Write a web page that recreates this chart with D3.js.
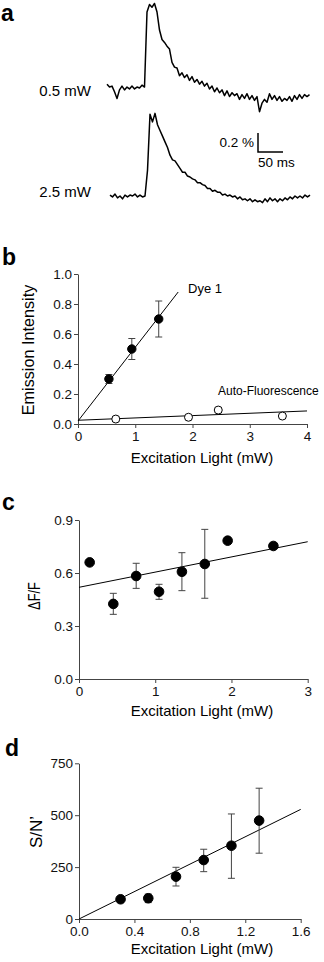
<!DOCTYPE html>
<html>
<head>
<meta charset="utf-8">
<script src="https://cdn.jsdelivr.net/npm/d3@7"></script>
<style>
  body { margin: 0; background: #fff; }
  svg { display: block; font-family: Arial, "Liberation Sans", Helvetica, sans-serif; }
</style>
</head>
<body>
<svg id="fig" width="324" height="962"></svg>
<script>
// ---- data ----
// panel a : traces (% dF/F), one sample every 5 ms
const sampleMs = 5;
const trace05 = [0.04,0.01,0.02,-0.04,-0.11,-0.02,0.02,-0.02,0.01,-0.01,0.02,-0.01,0.01,0,0.03,0.01,
  0.80,0.88,0.85,0.89,0.80,0.61,0.51,0.48,0.44,0.41,0.27,0.22,0.21,0.13,0.16,0.11,0.14,0.08,0.12,0.06,
  0.09,0.04,0.07,0.02,0.05,-0.01,0.02,-0.04,0,-0.05,-0.02,-0.08,-0.03,-0.09,-0.05,-0.08,-0.06,-0.12,
  -0.07,-0.11,-0.06,-0.12,-0.08,-0.13,-0.09,-0.25,-0.16,-0.12,-0.15,-0.06,-0.12,-0.08,-0.13,-0.09,
  -0.14,-0.11,-0.13,-0.09,-0.14,-0.08,-0.12,-0.07,-0.11,-0.07,-0.09,-0.07];
const trace25 = [0.01,-0.01,0.02,-0.02,0,-0.03,0.01,-0.01,0.01,0,0.02,-0.01,0.01,-0.01,0,0.27,
  0.86,0.78,0.87,0.75,0.69,0.63,0.57,0.51,0.43,0.38,0.37,0.33,0.29,0.25,0.25,0.21,0.20,0.18,0.17,
  0.14,0.14,0.12,0.11,0.08,0.08,0.05,0.06,0.04,0.04,0.01,0.02,0,0.01,-0.01,0,-0.03,-0.01,-0.04,
  -0.03,-0.05,-0.03,-0.06,-0.04,-0.06,-0.05,-0.07,-0.03,-0.06,-0.02,-0.05,-0.03,-0.06,-0.03,-0.05,
  -0.02,-0.04,-0.01,-0.03,0,-0.02,0,-0.02,0.01,-0.01,0.01];
const trace25StartMs = 6;
const traceLabels = ["0.5 mW", "2.5 mW"];

// panel b
const dyeX = [0.54, 0.94, 1.41];
const dyeY = [0.30, 0.50, 0.70];
const dyeErr = [0.03, 0.07, 0.12];
const dyeFit = [[0, 0.02], [1.75, 0.88]];
const autoX = [0.66, 1.93, 2.45, 3.57];
const autoY = [0.033, 0.045, 0.093, 0.053];
const autoFit = [[0, 0.025], [4, 0.087]];
const bXTicks = [0, 1, 2, 3, 4];
const bYTicks = [0, 0.2, 0.4, 0.6, 0.8, 1.0];

// panel c
const cX = [0.14, 0.45, 0.75, 1.05, 1.35, 1.65, 1.95, 2.55];
const cY = [0.66, 0.425, 0.583, 0.494, 0.607, 0.651, 0.783, 0.753];
const cErrLo = [null, 0.366, 0.513, 0.451, 0.50, 0.457, null, null];
const cErrHi = [null, 0.485, 0.655, 0.536, 0.715, 0.847, null, null];
const cFit = [[0, 0.519], [3, 0.777]];
const cXTicks = [0, 1, 2, 3];
const cYTicks = [0, 0.3, 0.6, 0.9];

// panel d
const dX = [0.3, 0.5, 0.7, 0.9, 1.1, 1.3];
const dY = [95, 100, 204, 284, 353, 474];
const dErrLo = [null, 79, 159, 228, 196, 317];
const dErrHi = [null, 120, 249, 336, 506, 630];
const dFit = [[0, 0], [1.6, 528]];
const dXTicks = [0, 0.4, 0.8, 1.2, 1.6];
const dYTicks = [0, 250, 500, 750];

const svg = d3.select("#fig");

// panel letters
const letters = [["a", 1, 21], ["b", 2, 265], ["c", 2, 510], ["d", 5, 756]];
svg.selectAll(".letter").data(letters).enter().append("text")
  .attr("class", "letter")
  .attr("x", d => d[1])
  .attr("y", d => d[2])
  .attr("font-size", 23).attr("font-weight", "bold")
  .text(d => d[0]);

// ---- panel a ----
const xT = d3.scaleLinear().domain([0, 405]).range([107, 309.5]);
const yT1 = d3.scaleLinear().domain([0, 1]).range([88, -7]);
const yT2 = d3.scaleLinear().domain([0, 1]).range([196, 101]);

const line1 = d3.line().x((d, i) => xT(i * sampleMs)).y(d => yT1(d));
const line2 = d3.line().x((d, i) => xT(trace25StartMs + i * sampleMs)).y(d => yT2(d));

svg.append("path").datum(trace05).attr("d", line1)
  .attr("fill", "none").attr("stroke", "#000").attr("stroke-width", 1.5).attr("stroke-linejoin", "round");
svg.append("path").datum(trace25).attr("d", line2)
  .attr("fill", "none").attr("stroke", "#000").attr("stroke-width", 1.5).attr("stroke-linejoin", "round");

svg.append("text").attr("x", 91).attr("y", 96).attr("text-anchor", "end")
  .attr("font-size", 15).text(traceLabels[0]);
svg.append("text").attr("x", 91).attr("y", 197).attr("text-anchor", "end")
  .attr("font-size", 15).text(traceLabels[1]);

// scale bar 0.2 % / 50 ms
const barT = 302, barBottom = 152;
const barH = yT2(0) - yT2(0.2);
const barW = xT(barT + 50) - xT(barT);
svg.append("path")
  .attr("d", `M${xT(barT)},${barBottom - barH}V${barBottom}H${xT(barT) + barW}`)
  .attr("fill", "none").attr("stroke", "#000").attr("stroke-width", 1.5);
svg.append("text").attr("x", xT(barT) - 4).attr("y", 147).attr("text-anchor", "end")
  .attr("font-size", 13.5).text("0.2 %");
svg.append("text").attr("x", xT(barT)).attr("y", 167)
  .attr("font-size", 13.5).text("50 ms");

// ---- helpers ----
function drawAxes(x, y, xTicks, yTicks, xFmt, yFmt) {
  const gx = svg.append("g").attr("transform", `translate(0,${y.range()[0]})`)
    .call(d3.axisBottom(x).tickValues(xTicks).tickFormat(xFmt).tickSize(4).tickSizeOuter(0).tickPadding(3));
  const gy = svg.append("g").attr("transform", `translate(${x.range()[0]},0)`)
    .call(d3.axisLeft(y).tickValues(yTicks).tickFormat(yFmt).tickSize(4).tickSizeOuter(0).tickPadding(2));
  [gx, gy].forEach(g => {
    g.selectAll("path,line").attr("stroke", "#444");
    g.selectAll("text").attr("font-size", 13.5).attr("fill", "#111")
      .attr("font-family", "Arial, 'Liberation Sans', Helvetica, sans-serif");
  });
}

function errorBars(x, y, xs, lo, hi) {
  const idx = xs.map((d, i) => i).filter(i => lo[i] !== null);
  const g = svg.append("g").attr("stroke", "#444").attr("stroke-width", 1).attr("fill", "none");
  idx.forEach(i => {
    const cx = x(xs[i]);
    g.append("path").attr("d",
      `M${cx},${y(lo[i])}V${y(hi[i])}M${cx - 3.5},${y(lo[i])}H${cx + 3.5}M${cx - 3.5},${y(hi[i])}H${cx + 3.5}`);
  });
}

function fitLine(x, y, pts) {
  svg.append("path").datum(pts)
    .attr("d", d3.line().x(d => x(d[0])).y(d => y(d[1])))
    .attr("fill", "none").attr("stroke", "#000").attr("stroke-width", 1);
}

function dots(x, y, xs, ys, filled, r) {
  svg.append("g").selectAll("circle").data(xs).enter().append("circle")
    .attr("cx", d => x(d)).attr("cy", (d, i) => y(ys[i])).attr("r", r)
    .attr("fill", filled ? "#000" : "#fff").attr("stroke", "#000").attr("stroke-width", 1);
}

function axisTitles(xTitle, yTitle, xBase, yBase, yCy, ySize, yLen) {
  svg.append("text").attr("x", 202).attr("y", xBase).attr("text-anchor", "middle")
    .attr("font-size", 15).text(xTitle);
  const t = svg.append("text").attr("transform", `translate(${yBase},${yCy}) rotate(-90)`)
    .attr("text-anchor", "middle").attr("font-size", ySize).text(yTitle);
  if (yLen) t.attr("textLength", yLen).attr("lengthAdjust", "spacingAndGlyphs");
}

// ---- panel b ----
const xb = d3.scaleLinear().domain([0, 4]).range([78, 307]);
const yb = d3.scaleLinear().domain([0, 1]).range([424, 274]);
drawAxes(xb, yb, bXTicks, bYTicks, d3.format("d"), d3.format(".1f"));
fitLine(xb, yb, dyeFit);
fitLine(xb, yb, autoFit);
errorBars(xb, yb, dyeX, dyeY.map((v, i) => v - dyeErr[i]), dyeY.map((v, i) => v + dyeErr[i]));
dots(xb, yb, dyeX, dyeY, true, 4.2);
dots(xb, yb, autoX, autoY, false, 4);
svg.append("text").attr("x", 188).attr("y", 293).attr("font-size", 13).text("Dye 1");
svg.append("text").attr("x", 218).attr("y", 395).attr("font-size", 12).text("Auto-Fluorescence");
axisTitles("Excitation Light (mW)", "Emission Intensity", 463, 34, 350, 16.2);

// ---- panel c ----
const xc = d3.scaleLinear().domain([0, 3]).range([79, 307.7]);
const yc = d3.scaleLinear().domain([0, 0.9]).range([679, 520]);
drawAxes(xc, yc, cXTicks, cYTicks, d3.format("d"), d3.format(".1f"));
fitLine(xc, yc, cFit);
errorBars(xc, yc, cX, cErrLo, cErrHi);
dots(xc, yc, cX, cY, true, 4.8);
axisTitles("Excitation Light (mW)", "\u0394F/F", 716, 40, 596, 17, 28);

// ---- panel d ----
const xd = d3.scaleLinear().domain([0, 1.6]).range([79, 300.7]);
const yd = d3.scaleLinear().domain([0, 750]).range([919, 763.3]);
drawAxes(xd, yd, dXTicks, dYTicks, d3.format(".1f"), d3.format("d"));
fitLine(xd, yd, dFit);
errorBars(xd, yd, dX, dErrLo, dErrHi);
dots(xd, yd, dX, dY, true, 4.8);
axisTitles("Excitation Light (mW)", "S/N\u2019", 954, 42, 832, 17);
</script>
</body>
</html>
